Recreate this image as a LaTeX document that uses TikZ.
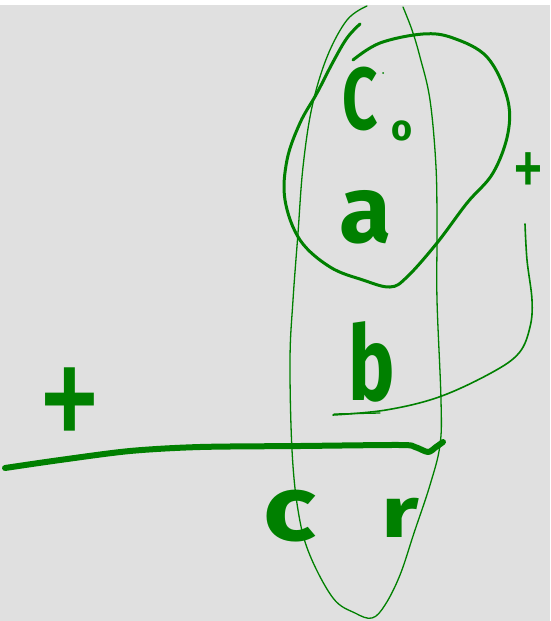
\documentclass[tikz,border=0pt]{standalone}
\usepackage{fontspec}
\setmainfont{Fira Sans}
\definecolor{ink}{HTML}{008000}
\definecolor{paper}{HTML}{E0E0E0}
\begin{document}
\begin{tikzpicture}[x=1pt,y=-1pt,
  thin stroke/.style={draw=ink,line width=1.3pt,line cap=round,line join=round},
  mid stroke/.style={draw=ink,line width=3pt,line cap=round,line join=round},
  thick stroke/.style={draw=ink,line width=6pt,line cap=round,line join=round},
  hw/.style={text=ink,inner sep=0pt,anchor=center,font=\bfseries},
]
\useasboundingbox (0,0) rectangle (550,621);
\fill[paper] (0,0) rectangle (550,621);
\fill[white] (0,0) rectangle (550,5);

% tall oval
\draw[thin stroke] plot[smooth,tension=0.6] coordinates {
 (367,6) (347,20) (327,57) (312,107) (303,167) (298,233) (293,300) (290,360)
 (292,450) (298,510) (309,553) (333,598) (355,613) (372,618) (385,605) (400,575)
 (414,533) (430,485) (440,445) (441,400) (437,300) (437,233) (436,167) (430,100)
 (420,57) (412,30) (403,7)};

% blob
\draw[mid stroke] plot[smooth,tension=0.6] coordinates {
 (353,60) (380,43) (423,34) (453,38) (487,57) (507,97) (508,133) (493,173)
 (467,203) (437,243) (407,277) (390,287) (363,280) (330,267) (300,240) (285,200)
 (287,160) (300,123) (317,93) (333,62) (347,38) (360,24)};

% thick horizontal line
\draw[thick stroke] plot[smooth,tension=0.5] coordinates {
 (5,468) (60,460) (130,451) (200,447) (300,446) (400,445) (415,447) (428,452) (436,447) (443,442)};

% thin curve at right
\draw[thin stroke,line width=1.6pt] plot[smooth,tension=0.6] coordinates {
 (525,224) (527,260) (532,300) (530,327) (519,353) (491,373) (439,397) (386,410) (333,415)};
\draw[thin stroke] (334,414) -- (380,413);

\fill[ink] (383,73) circle (1pt);

% letters
\node[hw,font=\bfseries\fontsize{88}{88}\selectfont,xscale=0.7,transform shape] (C) at (360,99) {C};
\node[hw,font=\bfseries\fontsize{36}{36}\selectfont] (o) at (402,131) {o};
\node[hw,font=\bfseries\fontsize{95}{95}\selectfont] (a) at (366,217) {a};
\node[hw,font=\bfseries\fontsize{104}{104}\selectfont,xscale=0.75,transform shape] (b) at (372,362) {b};
\node[hw,font=\bfseries\fontsize{92}{92}\selectfont,xscale=1.2,transform shape] (c) at (290,516) {c};
\node[hw,font=\bfseries\fontsize{72}{72}\selectfont,xscale=1.3,transform shape] (r) at (400,518) {r};
\node[hw,font=\fontsize{130}{130}\selectfont,yscale=1.3,transform shape] (p1) at (70,412) {+};
\node[hw,font=\fontsize{64}{64}\selectfont,yscale=1.35,transform shape] (p2) at (528,175) {+};
\end{tikzpicture}
\end{document}
